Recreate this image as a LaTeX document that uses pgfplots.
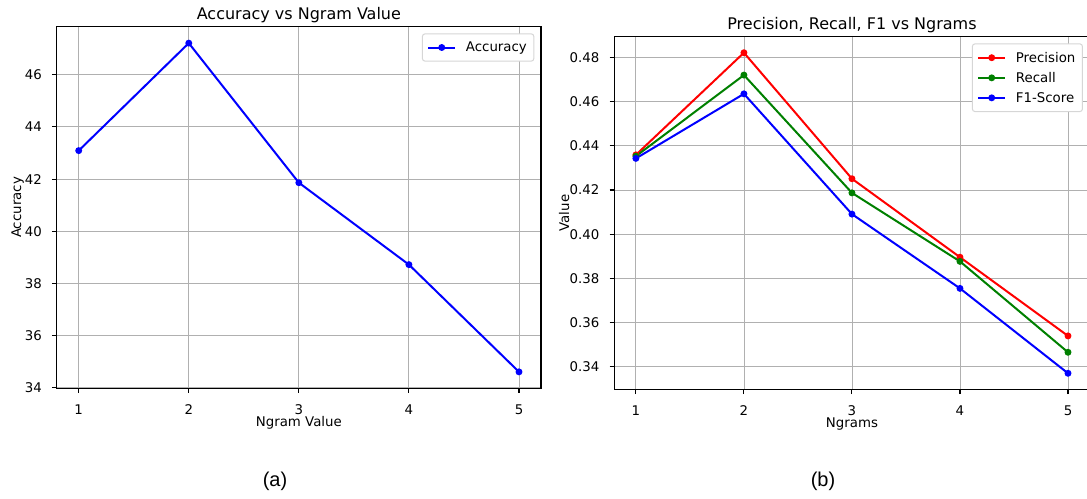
\documentclass[border=0pt]{standalone}
\usepackage{fontspec}
\setmainfont{DejaVu Sans}
\newfontfamily\capfont{Liberation Sans}
\usepackage{pgfplots}
\pgfplotsset{compat=1.18}
\definecolor{gridgray}{HTML}{B0B0B0}
\definecolor{legedge}{HTML}{D6D6D6}
\definecolor{mplgreen}{RGB}{0,128,0}
\pgfplotsset{
  mplstyle/.style={
    scale only axis,
    axis line style={black, line width=1.07pt},
    tick align=outside,
    major tick length=4.7pt,
    tick style={black, line width=1.07pt},
    xtick pos=bottom, ytick pos=left,
    grid=major,
    grid style={gridgray, line width=0.85pt},
    xtick={1,2,3,4,5},
    xmin=0.8, xmax=5.2,
    font=\fontsize{13.33}{16}\selectfont,
    tick label style={font=\fontsize{13.33}{16}\selectfont, inner sep=0pt},
    xticklabel style={anchor=base, yshift=-21.2pt},
    yticklabel style={anchor=east, xshift=-10pt},
    /pgf/number format/assume math mode=true,
    title style={font=\fontsize{16}{19}\selectfont, inner sep=0pt, at={(0.5,1)}, anchor=base, yshift=1.5pt},
    xlabel style={inner sep=0pt, at={(axis description cs:0.5,0)}, anchor=base, yshift=-38pt},
    ylabel style={inner sep=0pt, anchor=base},
    legend cell align=left,
    legend style={at={(1,1)}, anchor=north east, xshift=-6.7pt, yshift=-6.7pt,
      draw=legedge, line width=1pt, rounded corners=2.5pt, fill=white,
      inner xsep=5pt, inner ysep=6pt, row sep=4.5pt,
      font=\fontsize{13.33}{16}\selectfont,
      nodes={inner sep=2pt}},
    legend image code/.code={
      \draw[mark repeat=2,mark phase=2,##1] plot coordinates {(0pt,0pt) (13.3pt,0pt) (26.7pt,0pt)};
      \path (34.5pt,0pt);
    },
    every axis plot/.append style={line width=2pt, mark=*, mark size=2.4pt},
  }
}
\begin{document}
\begin{tikzpicture}
\useasboundingbox (0,0) rectangle (1087pt,498pt);
\clip (0,0) rectangle (1087pt,498pt);
\begin{axis}[mplstyle,
  at={(56.7pt,109.7pt)}, anchor=south west,
  width=484.3pt, height=361.6pt,
  ymin=33.98, ymax=47.84,
  ytick={34,36,38,40,42,44,46},
  title={Accuracy vs Ngram Value},
  xlabel={Ngram Value}, ylabel={Accuracy},
  ylabel style={at={(axis description cs:-0.0737,0.5)}},
]
\addplot[blue, mark options={fill=blue, draw=blue}] coordinates {(1,43.09) (2,47.21) (3,41.86) (4,38.72) (5,34.61)};
\addlegendentry{Accuracy}
\end{axis}
\begin{axis}[mplstyle,
  at={(614.3pt,108.7pt)}, anchor=south west,
  width=475.3pt, height=352.6pt,
  ymin=0.32985, ymax=0.48935,
  ytick={0.34,0.36,0.38,0.40,0.42,0.44,0.46,0.48},
  yticklabel={\pgfmathprintnumber[fixed,fixed zerofill,precision=2]{\tick}},
  title={Precision, Recall, F1 vs Ngrams},
  xlabel={Ngrams}, ylabel={Value},
  ylabel style={at={(axis description cs:-0.0953,0.5)}},
]
\addplot[red, mark options={fill=red, draw=red}] coordinates {(1,0.4359) (2,0.4821) (3,0.4251) (4,0.3896) (5,0.3540)};
\addlegendentry{Precision}
\addplot[mplgreen, mark options={fill=mplgreen, draw=mplgreen}] coordinates {(1,0.4353) (2,0.4720) (3,0.4187) (4,0.3877) (5,0.3466)};
\addlegendentry{Recall}
\addplot[blue, mark options={fill=blue, draw=blue}] coordinates {(1,0.4343) (2,0.4635) (3,0.4091) (4,0.3755) (5,0.3371)};
\addlegendentry{F1-Score}
\end{axis}
\node[font=\capfont\fontsize{20}{24}\selectfont] at (275pt,17pt) {(a)};
\node[font=\capfont\fontsize{20}{24}\selectfont] at (823pt,17pt) {(b)};
\end{tikzpicture}
\end{document}
